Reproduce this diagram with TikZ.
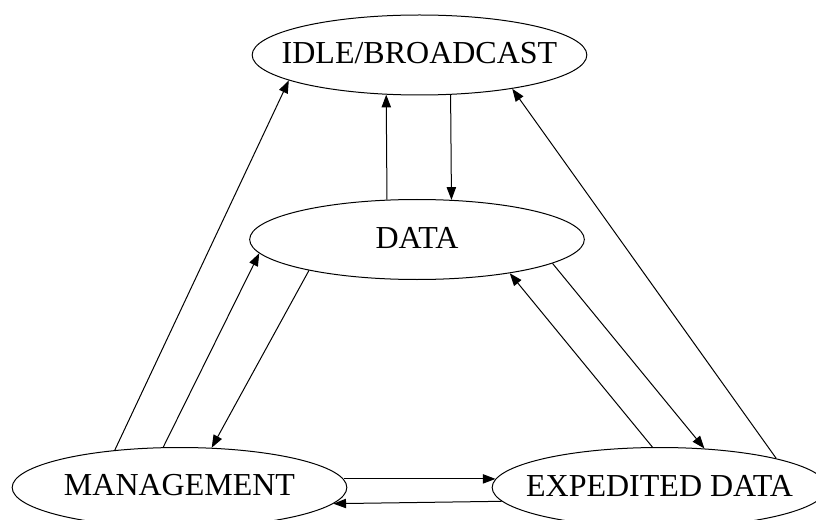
\documentclass[tikz,border=0pt]{standalone}
\usepackage{fontspec}
\setmainfont{Liberation Serif}
\usetikzlibrary{shapes.geometric,arrows.meta}
\tikzstyle{statenode}=[ellipse, draw, line width=0.75pt, inner sep=0pt, minimum width=251pt, minimum height=60pt, label distance=0pt]
\tikzstyle{trans}=[line width=0.75pt, -{Triangle[length=9.5pt,width=7pt]}]
\tikzset{every label/.style={font=\fontsize{24}{28}\selectfont, inner sep=0pt, yshift=1.5pt}}

\begin{document}
\begin{tikzpicture}[x=0.75pt, y=-0.75pt]
				\useasboundingbox (0,0) rectangle (816,520);
				\node[statenode,label=center:{IDLE/BROADCAST}] (idle) at (419.5,55) {};
				\node[statenode,label=center:{DATA}] (data) at (417,239.5) {};
				\node[statenode,label=center:{MANAGEMENT}] (mgmt) at (179.5,487.5) {};
				\node[statenode,label=center:{EXPEDITED DATA}] (exp) at (659.5,487.5) {};
				
				
				\draw[trans] (mgmt.150.5) to (idle.191.1);
				\draw[trans] (mgmt.112.2) to (data.185.8);
				\draw[trans] (data.196.5) to (mgmt.51.1);
				\draw[trans] (data.127.2) to (idle.230.9);
				\draw[trans] (idle.308.2) to (data.49.6);
				\draw[trans] (exp.14.5) to (idle.340);
				\draw[trans] (exp.100.5) to (data.340);
				\draw[trans] (data.350.7) to (exp.41.1);
				\draw[trans] (mgmt.3) to (exp.177);
				\draw[trans] (exp.185.3) to (mgmt.354.7);
			\end{tikzpicture}
\end{document}
